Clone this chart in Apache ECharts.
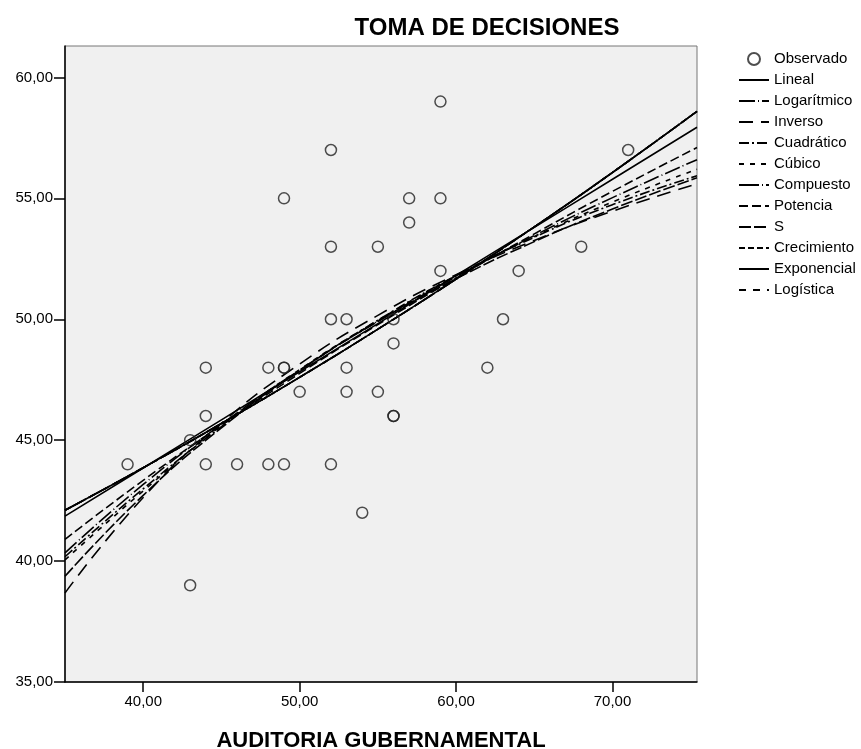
<!DOCTYPE html>
<html>
<head>
<meta charset="utf-8">
<script src="https://cdn.jsdelivr.net/npm/echarts@6/dist/echarts.min.js"></script>
<style>
  html, body { margin: 0; padding: 0; background: #fff; }
  #main { width: 861px; height: 749px; }
</style>
</head>
<body>
<div id="main"></div>
<script>
// puntos observados (AUDITORIA GUBERNAMENTAL, TOMA DE DECISIONES)
var obsX = [39, 43, 43, 44, 44, 44, 46, 48, 48, 49, 49, 49, 49, 50, 52, 52, 52, 52, 53, 53, 53,
            54, 55, 55, 57, 57, 56, 56, 56, 56, 59, 59, 59, 62, 63, 64, 68, 71];
var obsY = [44, 39, 45, 48, 46, 44, 44, 48, 44, 48, 48, 44, 55, 47, 57, 53, 50, 44, 50, 48, 47,
            42, 53, 47, 55, 54, 50, 49, 46, 46, 59, 55, 52, 48, 50, 52, 53, 57];

var curveX      = [35, 40, 45, 50, 55, 60, 65, 70, 75.4];
var lineal      = [41.86, 43.85, 45.84, 47.83, 49.82, 51.81, 53.80, 55.79, 57.94];
var logaritmico = [40.34, 43.17, 45.66, 47.90, 49.92, 51.76, 53.46, 55.03, 56.60];
var inverso     = [38.68, 42.63, 45.70, 48.15, 50.16, 51.84, 53.26, 54.47, 55.60];
var cuadratico  = [40.18, 42.99, 45.56, 47.88, 49.96, 51.80, 53.39, 54.74, 55.93];
var cubico      = [40.05, 42.90, 45.60, 47.92, 49.95, 51.80, 53.42, 54.85, 56.20];
var potencia    = [40.90, 43.34, 45.62, 47.76, 49.78, 51.70, 53.53, 55.29, 57.10];
var curvaS      = [39.37, 42.72, 45.51, 47.88, 49.91, 51.67, 53.21, 54.56, 55.85];
var exponencial = [42.10, 43.86, 45.69, 47.60, 49.59, 51.66, 53.82, 56.07, 58.60];

var xTicks = [40, 50, 60, 70];
var yTicks = [35, 40, 45, 50, 55, 60];

var FONT = 'Liberation Sans, Arial, sans-serif';

function fmt(v) {
  return v.toFixed(2).replace('.', ',');
}

function curva(name, values, dash) {
  return {
    name: name,
    type: 'line',
    smooth: true,
    symbol: 'none',
    showSymbol: false,
    silent: true,
    color: '#000',
    itemStyle: { color: 'rgba(0,0,0,0)', borderWidth: 0 },
    lineStyle: { color: '#000', width: 1.6, type: dash },
    data: curveX.map(function (x, i) { return [x, values[i]]; })
  };
}

var chart = echarts.init(document.getElementById('main'), null, { renderer: 'canvas' });

var option = {
  backgroundColor: '#fff',
  animation: false,
  title: {
    text: 'TOMA DE DECISIONES',
    left: 482,
    textAlign: 'center',
    top: 11,
    textStyle: { fontFamily: FONT, fontSize: 24, fontWeight: 'bold', color: '#000' }
  },
  legend: {
    orient: 'vertical',
    left: 738,
    top: 51,
    padding: 0,
    itemWidth: 30,
    itemHeight: 12,
    itemGap: 5,
    textStyle: { fontFamily: FONT, fontSize: 15, color: '#000', lineHeight: 16 },
    data: ['Observado', 'Lineal', 'Logarítmico', 'Inverso', 'Cuadrático', 'Cúbico',
           'Compuesto', 'Potencia', 'S', 'Crecimiento', 'Exponencial', 'Logística']
  },
  grid: {
    left: 65, right: 164, top: 46, bottom: 67,
    outerBoundsMode: 'none',
    containLabel: false,
    show: true,
    backgroundColor: '#f0f0f0',
    borderColor: '#777',
    borderWidth: 1
  },
  xAxis: {
    type: 'value',
    min: 35,
    max: 75.4,
    name: 'AUDITORIA GUBERNAMENTAL',
    nameLocation: 'middle',
    nameGap: 48,
    nameTextStyle: { fontFamily: FONT, fontSize: 22, fontWeight: 'bold', color: '#000' },
    axisLine: { show: true, lineStyle: { color: '#000', width: 1.5 } },
    axisTick: { show: true, length: 10, customValues: xTicks, lineStyle: { color: '#000', width: 1.5 } },
    axisLabel: { customValues: xTicks, margin: 12, fontFamily: FONT, fontSize: 15, color: '#000', formatter: fmt },
    splitLine: { show: false }
  },
  yAxis: {
    type: 'value',
    min: 35,
    max: 61.3,
    axisLine: { show: true, lineStyle: { color: '#000', width: 1.5 } },
    axisTick: { show: true, length: 11, customValues: yTicks, lineStyle: { color: '#000', width: 1.5 } },
    axisLabel: { customValues: yTicks, margin: 12, fontFamily: FONT, fontSize: 15, color: '#000', formatter: fmt },
    splitLine: { show: false }
  },
  series: [
    {
      name: 'Observado',
      type: 'scatter',
      symbol: 'circle',
      symbolSize: 11,
      itemStyle: { color: 'rgba(0,0,0,0)', borderColor: '#222', borderWidth: 1.5 },
      data: obsX.map(function (x, i) { return [x, obsY[i]]; }),
      z: 5
    },
    curva('Lineal', lineal, 'solid'),
    curva('Logarítmico', logaritmico, [16, 3, 1, 3]),
    curva('Inverso', inverso, [14, 8]),
    curva('Cuadrático', cuadratico, [10, 3, 2, 3]),
    curva('Cúbico', cubico, [5, 6]),
    curva('Compuesto', exponencial, [20, 3, 1, 3]),
    curva('Potencia', potencia, [9, 4]),
    curva('S', curvaS, [12, 3]),
    curva('Crecimiento', exponencial, [6, 3]),
    curva('Exponencial', exponencial, 'solid'),
    curva('Logística', exponencial, [7, 7])
  ]
};

chart.setOption(option);
</script>
</body>
</html>
